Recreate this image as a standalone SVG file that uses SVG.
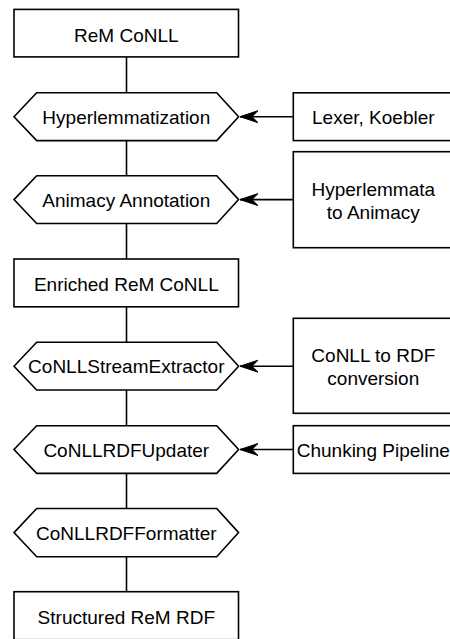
<svg xmlns="http://www.w3.org/2000/svg" width="450" height="639" viewBox="0 0 450 639">
<style>
.s{fill:#fff;stroke:#000;stroke-width:1.6}
.t{font-family:"Liberation Sans",Arial,sans-serif;font-size:19px;fill:#000;text-anchor:middle}
.c{fill:none;stroke:#000;stroke-width:1.6}
</style>
<defs>
<marker id="ah" markerUnits="userSpaceOnUse" markerWidth="20" markerHeight="16" viewBox="0 0 20 16" refX="18" refY="8" orient="auto">
<path d="M18,8 L0,2 L6,8 L0,14 Z" fill="#000" stroke="#000" stroke-width="1"/>
</marker>
</defs>
<rect width="450" height="639" fill="#fff"/>
<g id="connectors">
<path class="c" d="M126.5,56.9V92.7"/>
<path class="c" d="M126.5,140.5V175.7"/>
<path class="c" d="M126.5,223.5V259"/>
<path class="c" d="M126.5,306.8V342.3"/>
<path class="c" d="M126.5,390V425.7"/>
<path class="c" d="M126.5,473.4V508.5"/>
<path class="c" d="M126.5,556.7V591.7"/>
<path class="c" d="M292.8,116.7H240" marker-end="url(#ah)"/>
<path class="c" d="M292.8,199.6H240" marker-end="url(#ah)"/>
<path class="c" d="M292.8,366.2H240" marker-end="url(#ah)"/>
<path class="c" d="M292.8,449.5H240" marker-end="url(#ah)"/>
</g>
<g id="rem-conll">
<rect class="s" x="14" y="9.4" width="224.5" height="47.5"/>
<text class="t" x="126.3" y="41.6">ReM CoNLL</text>
</g>
<g id="hyperlemmatization">
<polygon class="s" points="14,116.7 36.7,92.8 216.7,92.8 238.6,116.7 216.7,140.6 36.7,140.6"/>
<text class="t" x="126.3" y="124">Hyperlemmatization</text>
</g>
<g id="lexer-koebler">
<rect class="s" x="293.3" y="92.8" width="160" height="47.8"/>
<text class="t" x="373.3" y="124">Lexer, Koebler</text>
</g>
<g id="animacy-annotation">
<polygon class="s" points="14,199.6 36.7,175.7 216.7,175.7 238.6,199.6 216.7,223.5 36.7,223.5"/>
<text class="t" x="126.3" y="207">Animacy Annotation</text>
</g>
<g id="hyperlemmata-to-animacy">
<rect class="s" x="293.3" y="151.7" width="160" height="96"/>
<text class="t" x="373.3" y="196">Hyperlemmata</text>
<text class="t" x="373.3" y="219">to Animacy</text>
</g>
<g id="enriched-rem-conll">
<rect class="s" x="14" y="259" width="224.5" height="47.8"/>
<text class="t" x="126.3" y="290.5">Enriched ReM CoNLL</text>
</g>
<g id="conllstreamextractor">
<polygon class="s" points="14,366.2 36.7,342.3 216.7,342.3 238.6,366.2 216.7,390 36.7,390"/>
<text class="t" x="126.3" y="373.3">CoNLLStreamExtractor</text>
</g>
<g id="conll-to-rdf">
<rect class="s" x="293.3" y="318.3" width="160" height="95"/>
<text class="t" x="373.3" y="361.8">CoNLL to RDF</text>
<text class="t" x="373.3" y="385">conversion</text>
</g>
<g id="conllrdfupdater">
<polygon class="s" points="14,449.5 36.7,425.7 216.7,425.7 238.6,449.5 216.7,473.4 36.7,473.4"/>
<text class="t" x="126.3" y="456.8">CoNLLRDFUpdater</text>
</g>
<g id="chunking-pipeline">
<rect class="s" x="293.3" y="425.7" width="160" height="47.7"/>
<text class="t" x="373.3" y="456.8">Chunking Pipeline</text>
</g>
<g id="conllrdfformatter">
<polygon class="s" points="14,532.6 36.7,508.5 216.7,508.5 238.6,532.6 216.7,556.7 36.7,556.7"/>
<text class="t" x="126.3" y="540">CoNLLRDFFormatter</text>
</g>
<g id="structured-rem-rdf">
<rect class="s" x="14" y="591.7" width="224.5" height="48"/>
<text class="t" x="126.3" y="623.5">Structured ReM RDF</text>
</g>
</svg>
